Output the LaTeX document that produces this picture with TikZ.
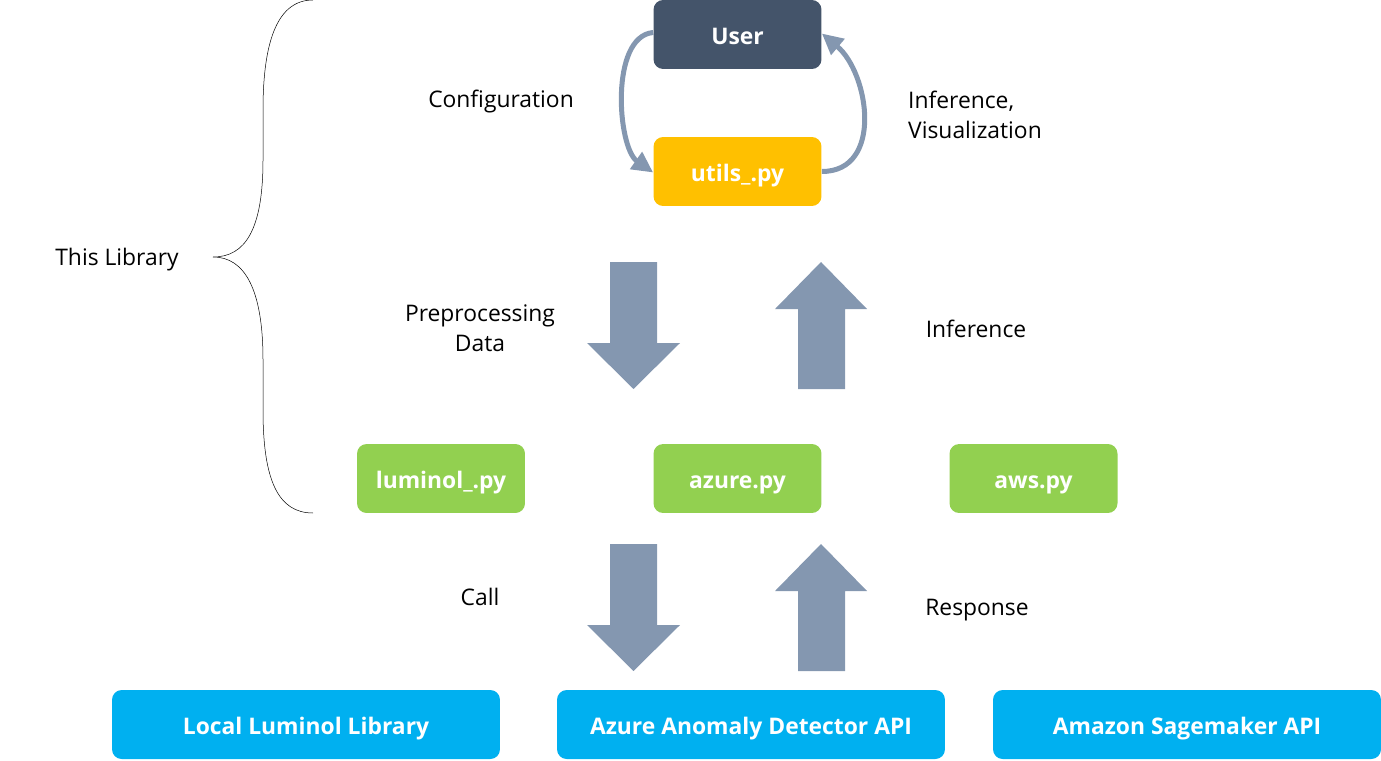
\documentclass[tikz,border=0pt]{standalone}
\usepackage{fontspec}
\setmainfont{Open Sans}
\usetikzlibrary{arrows.meta}

\definecolor{userblue}{HTML}{44546A}
\definecolor{utilsyellow}{HTML}{FFC000}
\definecolor{modgreen}{HTML}{92D050}
\definecolor{apiblue}{HTML}{00B0F0}
\definecolor{flowgray}{HTML}{8497B0}

\tikzset{
    box/.style = {rounded corners = 5.5pt, text = white,
        minimum height = 1.38cm, inner sep = 0pt,
        text height = 14.5pt, text depth = 3pt,
        font = \fontsize{13}{15.6}\selectfont\bfseries},
    modbox/.style = {box, fill = modgreen, minimum width = 3.36cm},
    apibox/.style = {box, fill = apiblue, minimum width = 7.76cm},
    label/.style = {font = \fontsize{13}{17}\selectfont, align = center},
    loop arrow/.style = {flowgray, line width = 0.1cm,
        -{Triangle[length = 0.42cm, width = 0.4cm]}}
}

\begin{document}
\begin{tikzpicture}[x = 0.02cm, y = -0.02cm]

    \useasboundingbox (0, 0) rectangle (1381, 760);

    \node[box, fill = userblue, minimum width = 3.36cm]
        (user) at (737.5, 34.5) {User};
    \node[box, fill = utilsyellow, minimum width = 3.36cm]
        (utils) at (737.5, 171.5) {utils\_.py};

    \node[modbox] (luminol) at (441, 478.5) {luminol\_.py};
    \node[modbox] (azure) at (737.5, 478.5) {azure.py};
    \node[modbox] (aws) at (1033.5, 478.5) {aws.py};

    \node[apibox] (localapi) at (306, 724.5) {Local Luminol Library};
    \node[apibox] (azureapi) at (751, 724.5) {Azure Anomaly Detector API};
    \node[apibox] (amazonapi) at (1187, 724.5) {Amazon Sagemaker API};

    \draw[loop arrow]
        ([yshift = 0.04cm] user.west) to[out = 185, in = 145, looseness = 0.8]
        ([yshift = -0.02cm] utils.west);
    \draw[loop arrow]
        (utils.east) to[out = 0, in = -40, looseness = 1.15]
        ([yshift = 0.02cm] user.east);

    % block arrows between the rows
    \foreach \y in {262, 544} {
        \fill[flowgray]
            (610, \y) -- (657, \y) -- (657, \y + 81) -- (680, \y + 81)
            -- (633.5, \y + 127) -- (587, \y + 81) -- (610, \y + 81) -- cycle;
        \fill[flowgray]
            (821, \y) -- (867, \y + 47) -- (845, \y + 47) -- (845, \y + 127)
            -- (798, \y + 127) -- (798, \y + 47) -- (775, \y + 47) -- cycle;
    }

    \node[label] (config) at (501, 102) {Configuration};
    \node[label, anchor = west, align = left] (visual) at (902, 115)
        {Inference,\\Visualization};
    \node[label] (preproc) at (480, 328) {Preprocessing\\Data};
    \node[label] (infer) at (976, 329) {Inference};
    \node[label] (call) at (480, 597) {Call};
    \node[label] (resp) at (977, 610) {Response};
    \node[label] (lib) at (117, 260) {This Library};

    \draw[line width = 0.1mm]
        (313, 0) .. controls (278, 0) and (263, 40) .. (263, 110)
        -- (263, 160) .. controls (263, 230) and (245, 257) .. (213, 257)
        .. controls (245, 257) and (263, 290) .. (263, 360)
        -- (263, 410) .. controls (263, 480) and (278, 513) .. (313, 513);

\end{tikzpicture}
\end{document}
